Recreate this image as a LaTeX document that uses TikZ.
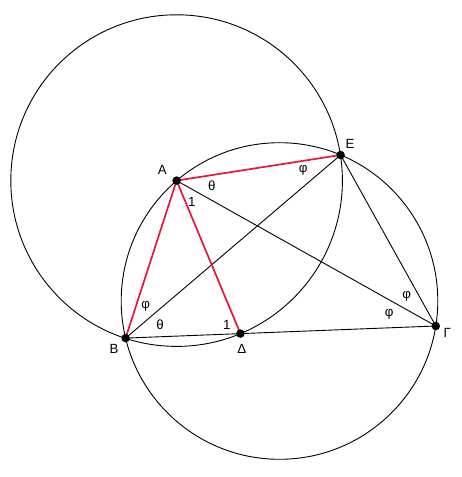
\documentclass[tikz,border=0pt]{standalone}
\usepackage{fontspec}
\setmainfont{Liberation Sans}
\usepackage{tikz}
\usepackage{xcolor}
\definecolor{segred}{RGB}{235,20,60}
\tikzset{
point/.style = {circle, fill=black, inner sep=0pt, minimum size=8.5pt},
seg/.style = {draw, line width=0.9pt},
redseg/.style = {draw, segred, line width=1.7pt},
circ/.style = {draw, line width=0.9pt},
lbl/.style = {inner sep=0pt, font=\fontsize{13.3}{16}\selectfont}
}

\begin{document}
\begin{tikzpicture}[x=1pt, y=1pt]
    \useasboundingbox (0,0) rectangle (462,477);
    \coordinate (O) at (279.5,176.0);
    \coordinate (pA) at (176.6,296.4);
    \coordinate (pB) at (125.6,138.9);
    \coordinate (pG) at (435.8,151.0);
    \coordinate (pD) at (240.4,143.4);
    \coordinate (pE) at (340.6,322.0);

    % circles
    \path [circ] (pA) circle [radius=165.8];
    \path [circ] (O) circle [radius=158.3];

    % black segments
    \path [seg] (pB) -- (pG);
    \path [seg] (pA) -- (pG);
    \path [seg] (pB) -- (pE);
    \path [seg] (pE) -- (pG);

    % red segments
    \path [redseg] (pA) -- (pB);
    \path [redseg] (pA) -- (pD);
    \path [redseg] (pA) -- (pE);

    % points
    \node [point] (A) at (pA) {};
    \node [point] (B) at (pB) {};
    \node [point] (G) at (pG) {};
    \node [point] (D) at (pD) {};
    \node [point] (E) at (pE) {};

    \node [lbl] (lA) at (162.3,307) {Α};
    \node [lbl] (lE) at (350,333) {Ε};
    \node [lbl] (lB) at (114,127.7) {Β};
    \node [lbl] (lD) at (241.7,127.7) {Δ};
    \node [lbl] (lG) at (447.3,144.3) {Γ};

    % angles
    \node [lbl] (aA1) at (191.7,275.3) {1};
    \node [lbl] (aA2) at (211.7,291) {θ};
    \node [lbl] (aE) at (303.3,307) {φ};
    \node [lbl] (aB1) at (145.7,170.3) {φ};
    \node [lbl] (aB2) at (160,152) {θ};
    \node [lbl] (aD) at (226.7,152) {1};
    \node [lbl] (aG1) at (406.7,181) {φ};
    \node [lbl] (aG2) at (389.3,163) {φ};
\end{tikzpicture}
\end{document}
